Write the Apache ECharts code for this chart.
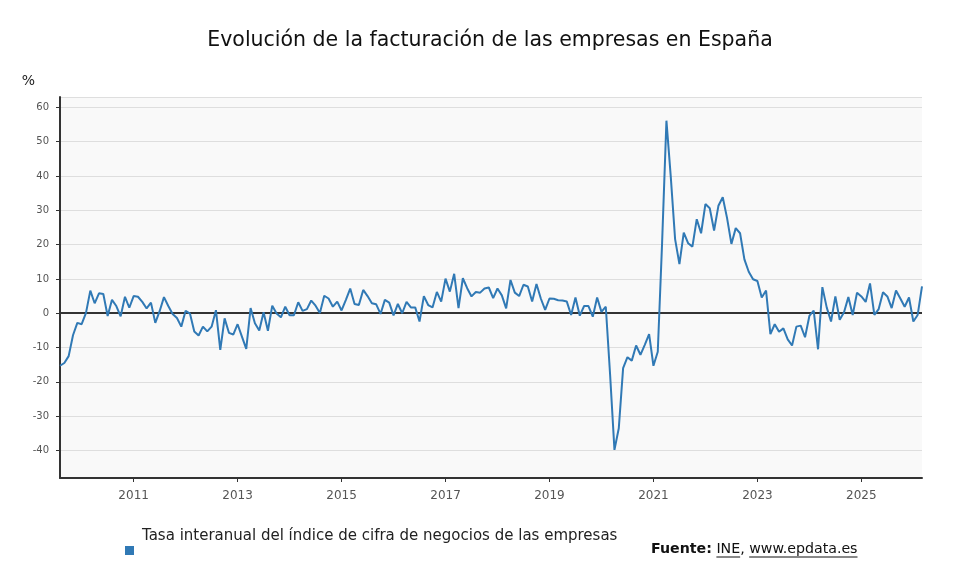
<!DOCTYPE html>
<html>
<head>
<meta charset="utf-8">
<title>Evolución de la facturación de las empresas en España</title>
<script src="https://cdn.jsdelivr.net/npm/echarts@6/dist/echarts.min.js"></script>
<style>
  html, body { margin: 0; padding: 0; background: #fff; }
  #container { width: 980px; height: 588px; }
</style>
</head>
<body>
<div id="container"></div>
<script>
// tasa interanual (%), mensual desde agosto de 2009
var valores2009_2013 = [
    -15.3, -14.5, -12.5, -6.4, -2.8,                                   // ago-dic 2009
    -3.2, 0.1, 6.6, 2.9, 5.8, 5.6, -0.8, 3.9, 2.1, -0.9, 4.8, 1.6,      // 2010
    5.0, 4.8, 3.3, 1.4, 3.1, -2.8, 0.6, 4.7, 2.1, -0.2, -1.4, -3.9,     // 2011
    0.7, -0.1, -5.3, -6.5, -3.9, -5.3, -3.9, 0.9, -10.7, -1.5, -5.7, -6.2, // 2012
    -3.2, -6.8, -10.4, 1.5, -2.9, -5.0, 0.3, -5.1, 2.2, -0.1, -1.2, 1.9  // 2013
];
var valores2014_2018 = [
    -0.6, -0.6, 3.2, 0.7, 1.2, 3.7, 2.2, 0.1, 5.1, 4.3, 1.9, 3.4,       // 2014
    0.8, 3.9, 7.2, 2.7, 2.4, 6.8, 5.0, 2.9, 2.6, -0.2, 3.9, 3.1,        // 2015
    -0.6, 2.7, 0, 3.3, 1.7, 1.7, -2.4, 5.0, 2.4, 1.7, 6.2, 3.4,         // 2016
    10.1, 6.3, 11.5, 1.5, 10.2, 7.3, 4.9, 6.2, 6.0, 7.2, 7.5, 4.4,      // 2017
    7.2, 5.2, 1.4, 9.7, 6.0, 5.0, 8.3, 7.8, 3.4, 8.5, 4.3, 1.0          // 2018
];
var valores2019_2022 = [
    4.3, 4.2, 3.8, 3.7, 3.4, -0.5, 4.6, -0.7, 2.1, 2.1, -1.0, 4.6,      // 2019
    0.4, 1.9, -18.0, -39.8, -33.5, -16.0, -12.8, -13.8, -9.4, -12.1, -9.2, -6.1, // 2020
    -15.3, -11.2, 20.5, 56.1, 39.8, 21.6, 14.3, 23.5, 20.4, 19.4, 27.4, 23.3,    // 2021
    31.8, 30.6, 24.1, 31.3, 33.8, 27.7, 20.2, 24.8, 23.3, 15.7, 12.1, 9.9        // 2022
];
var valores2023_2026 = [
    9.4, 4.6, 6.6, -6.1, -3.2, -5.4, -4.4, -7.6, -9.4, -3.9, -3.6, -7.0, // 2023
    -0.8, 0.8, -10.5, 7.6, 1.7, -2.4, 4.9, -1.9, 0.3, 4.7, -0.5, 6.0,   // 2024
    4.9, 3.3, 8.7, -0.5, 1.2, 6.1, 4.9, 1.5, 6.6, 4.3, 1.9, 4.6,        // 2025
    -2.4, -0.5, 7.8                                                     // 2026
];
var valores = valores2009_2013.concat(valores2014_2018, valores2019_2022, valores2023_2026);

// etiquetas del eje x
var anyoInicio = 2009, mesInicio = 8;
var etiquetasAnyo = ['2011', '2013', '2015', '2017', '2019', '2021', '2023', '2025'];

var meses = [];
for (var i = 0; i < valores.length; i++) {
    var m = mesInicio - 1 + i;
    var a = anyoInicio + Math.floor(m / 12);
    var mm = (m % 12) + 1;
    meses.push(a + '-' + (mm < 10 ? '0' + mm : mm));
}

function esEtiqueta(index, value) {
    var parts = meses[index].split('-');
    return parts[1] === '01' && etiquetasAnyo.indexOf(parts[0]) >= 0;
}

var fuente = 'DejaVu Sans, sans-serif';
var serieNombre = 'Tasa interanual del índice de cifra de negocios de las empresas';

// medir texto de la fuente para subrayar los enlaces
var tamFuente = 14.2;
var ctx = document.createElement('canvas').getContext('2d');
function ancho(txt, peso) {
    ctx.font = (peso || 'normal') + ' ' + tamFuente + 'px ' + fuente;
    return ctx.measureText(txt).width;
}
var fx = 651, fy = 549;
var xIne = fx + ancho('Fuente:', 'bold') + ancho(' ');
var xWeb = xIne + ancho('INE, ');

var myChart = echarts.init(document.getElementById('container'));

option = {
    animation: false,
    textStyle: { fontFamily: fuente },
    title: {
        text: 'Evolución de la facturación de las empresas en España',
        left: 'center',
        top: 25,
        textStyle: { fontSize: 20.5, fontWeight: 'normal', color: '#111', fontFamily: fuente }
    },
    grid: {
        left: 60,
        right: 58,
        top: 97,
        bottom: 110,
        show: true,
        backgroundColor: '#f9f9f9',
        borderWidth: 0
    },
    legend: {
        left: 125,
        top: 529,
        padding: 0,
        itemWidth: 9,
        itemHeight: 9,
        icon: 'rect',
        selectedMode: false,
        formatter: function (name) { return '{t|' + name + '}'; },
        textStyle: {
            fontSize: 15,
            color: '#222',
            fontFamily: fuente,
            rich: {
                t: { fontSize: 15, color: '#222', fontFamily: fuente, padding: [0, 0, 28, 3] }
            }
        },
        data: [serieNombre]
    },
    xAxis: {
        type: 'category',
        boundaryGap: false,
        data: meses,
        axisLine: { onZero: false, lineStyle: { color: '#333', width: 2 } },
        axisTick: { interval: esEtiqueta, length: 4, lineStyle: { color: '#333' } },
        axisLabel: {
            interval: esEtiqueta,
            margin: 12,
            fontSize: 12,
            color: '#555',
            formatter: function (v) { return v.split('-')[0]; }
        },
        splitLine: { show: false }
    },
    yAxis: {
        type: 'value',
        min: -48,
        max: 63,
        splitNumber: 11,
        name: '%',
        nameLocation: 'end',
        nameGap: 9,
        nameTextStyle: { fontSize: 14, color: '#222', align: 'right', padding: [0, 25, 0, 0] },
        axisLine: { show: true, lineStyle: { color: '#333', width: 2 } },
        axisTick: { show: true, length: 4, lineStyle: { color: '#333' } },
        axisLabel: {
            fontSize: 10,
            color: '#555',
            margin: 11,
            showMinLabel: false,
            showMaxLabel: false,
            formatter: function (v) { return v % 10 === 0 ? String(v) : ''; }
        },
        splitLine: { lineStyle: { color: '#dedede', width: 1 } }
    },
    series: [
        {
            name: serieNombre,
            type: 'line',
            data: valores,
            symbol: 'none',
            color: '#3079b5',
            lineStyle: { width: 2, color: '#3079b5' },
            z: 3,
            markLine: {
                silent: true,
                symbol: 'none',
                label: { show: false },
                lineStyle: { color: '#333', width: 2, type: 'solid' },
                data: [{ yAxis: 0 }],
                z: 2
            }
        }
    ],
    graphic: [
        {
            type: 'text',
            left: fx,
            top: fy - 7,
            style: {
                text: '{b|Fuente:} INE, www.epdata.es',
                font: tamFuente + 'px ' + fuente,
                fill: '#111',
                rich: {
                    b: { fontWeight: 'bold', fontSize: tamFuente, fontFamily: fuente, fill: '#111' }
                }
            }
        },
        { type: 'line', shape: { x1: xIne, y1: fy + 8, x2: xIne + ancho('INE'), y2: fy + 8 }, style: { stroke: '#111', lineWidth: 1 } },
        { type: 'line', shape: { x1: xWeb, y1: fy + 8, x2: xWeb + ancho('www.epdata.es'), y2: fy + 8 }, style: { stroke: '#111', lineWidth: 1 } }
    ]
};

myChart.setOption(option, true);
</script>
</body>
</html>
